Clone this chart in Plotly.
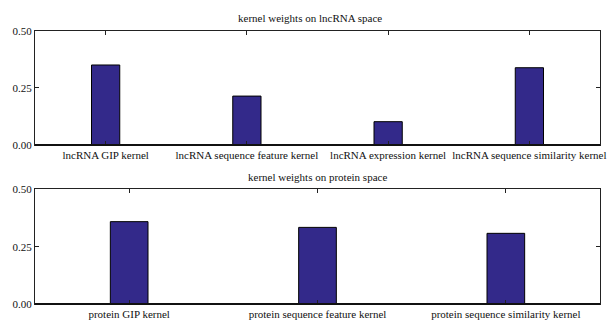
import plotly.graph_objects as go

lnc_categories = ["lncRNA GIP kernel", "lncRNA sequence feature kernel",
                  "lncRNA expression kernel", "lncRNA sequence similarity kernel"]
lnc_weights = [0.35, 0.214, 0.102, 0.338]

prot_categories = ["protein GIP kernel", "protein sequence feature kernel",
                   "protein sequence similarity kernel"]
prot_weights = [0.359, 0.334, 0.308]

y_ticks = [0, 0.25, 0.5]
y_ticklabels = ["0.00", "0.25", "0.50"]

title_top = "kernel weights on lncRNA space"
title_bottom = "kernel weights on protein space"

W, H = 608, 320
FONT = "Liberation Serif, Times New Roman, serif"
FS = 11
BAR_COLOR = "#33298a"

x0, x1 = 35 / W, 600 / W
top_dom = [(H - 145) / H, (H - 30.7) / H]
bot_dom = [(H - 304) / H, (H - 189.3) / H]

fig = go.Figure()
fig.add_trace(go.Bar(x=list(range(len(lnc_categories))), y=lnc_weights, width=0.2,
                     marker=dict(color=BAR_COLOR, line=dict(color="black", width=1)),
                     xaxis="x", yaxis="y", showlegend=False))
fig.add_trace(go.Bar(x=list(range(len(prot_categories))), y=prot_weights, width=0.2,
                     marker=dict(color=BAR_COLOR, line=dict(color="black", width=1)),
                     xaxis="x2", yaxis="y2", showlegend=False))

axis_common = dict(showline=True, linecolor="#222", linewidth=1, mirror="ticks",
                   ticks="inside", ticklen=4, tickcolor="#222", showgrid=False,
                   zeroline=False, automargin=False,
                   tickfont=dict(family=FONT, size=FS, color="#111"))

fig.update_layout(
    width=W, height=H, margin=dict(l=0, r=0, t=0, b=0, autoexpand=False),
    plot_bgcolor="white", paper_bgcolor="white",
    font=dict(family=FONT, size=FS, color="#111"),
    xaxis=dict(domain=[x0, x1], anchor="y", range=[-0.5, len(lnc_categories) - 0.5],
               tickmode="array", tickvals=list(range(len(lnc_categories))),
               ticktext=lnc_categories, **axis_common),
    yaxis=dict(domain=top_dom, anchor="x", range=[0, 0.5], tickmode="array",
               tickvals=y_ticks, ticktext=y_ticklabels, **axis_common),
    xaxis2=dict(domain=[x0, x1], anchor="y2", range=[-0.5, len(prot_categories) - 0.5],
                tickmode="array", tickvals=list(range(len(prot_categories))),
                ticktext=prot_categories, **axis_common),
    yaxis2=dict(domain=bot_dom, anchor="x2", range=[0, 0.5], tickmode="array",
                tickvals=y_ticks, ticktext=y_ticklabels, **axis_common),
    annotations=[
        dict(text=title_top, x=(x0 + x1) / 2 - 0.012, y=top_dom[1], xref="paper", yref="paper",
             xanchor="center", yanchor="bottom", yshift=5, showarrow=False,
             font=dict(family=FONT, size=FS, color="#111")),
        dict(text=title_bottom, x=(x0 + x1) / 2, y=bot_dom[1], xref="paper", yref="paper",
             xanchor="center", yanchor="bottom", yshift=4, showarrow=False,
             font=dict(family=FONT, size=FS, color="#111")),
    ],
    shapes=[
        dict(type="line", xref="paper", yref="paper", x0=x0, x1=x1, y0=top_dom[0], y1=top_dom[0],
             line=dict(color="#111", width=2)),
        dict(type="line", xref="paper", yref="paper", x0=x0, x1=x1, y0=bot_dom[0], y1=bot_dom[0],
             line=dict(color="#111", width=2)),
    ],
)

fig.write_html("out.html",
               config={"displayModeBar": False, "staticPlot": True},
               post_script="document.body.style.margin='0';document.body.style.overflow='hidden';")
